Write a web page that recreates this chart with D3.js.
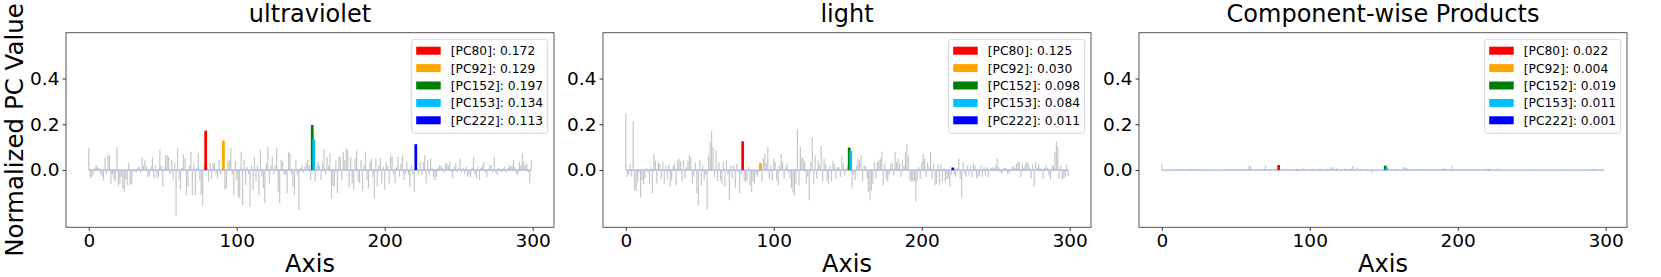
<!DOCTYPE html>
<html>
<head>
<meta charset="utf-8">
<script src="https://cdn.jsdelivr.net/npm/d3@7"></script>
<style>
  body { margin: 0; background: #fff; }
  text { font-family: "DejaVu Sans", sans-serif; }
</style>
</head>
<body>
<svg id="chart" width="1661" height="277"></svg>
<script>
// panel titles
var titles = ["ultraviolet", "light", "Component-wise Products"];

// highlighted components (0-based index = PC number - 1)
var pcLabels = ["PC80", "PC92", "PC152", "PC153", "PC222"];
var pcIndex = [79, 91, 151, 152, 221];
var pcColors = ["red", "orange", "green", "deepskyblue", "blue"];

// legend values per panel
var uvPC = [0.172, 0.129, 0.197, 0.134, 0.113];
var lightPC = [0.125, 0.030, 0.098, 0.084, 0.011];
var prodPC = [0.022, 0.004, 0.019, 0.011, 0.001];

var xTicks = [0, 100, 200, 300];
var yTicks = [0.0, 0.2, 0.4];

// normalized PC values, axis 0..299
var uvValues = [
  0.095, -0.035, -0.03, -0.02, 0.01, 0.022, 0.012, 0.008, -0.02, -0.03,
  -0.045, 0.055, -0.02, 0.065, 0.065, -0.06, -0.02, -0.04, -0.05, 0.1,
  -0.07, -0.06, -0.03, -0.08, -0.095, -0.04, -0.065, 0.03, -0.065, -0.06,
  -0.01, 0.005, -0.01, 0.01, 0.015, -0.01, 0.058, 0.02, 0.043, 0.015,
  -0.03, -0.025, 0.015, 0.058, -0.035, 0.02, -0.035, -0.03, 0.087, 0.02,
  -0.073, 0.015, 0.065, 0.065, 0.058, -0.02, 0.044, -0.045, 0.03, -0.2,
  0.095, -0.04, -0.087, 0.01, 0.07, 0.05, -0.11, -0.073, 0.02, 0.08,
  -0.11, 0.03, -0.11, 0.01, 0.073, -0.044, -0.11, -0.153, 0.015, 0.172,
  0.01, -0.05, 0.03, -0.04, 0.03, 0.03, -0.02, -0.035, 0.044, -0.02,
  0.01, 0.129, -0.087, -0.08, 0.036, 0.044, 0.095, -0.02, -0.11, 0.04,
  -0.044, -0.116, -0.124, 0.08, -0.153, 0.046, -0.065, 0.015, -0.02, -0.16,
  0.022, -0.087, 0.058, -0.05, 0.02, -0.11, 0.087, -0.03, -0.08, -0.145,
  0.03, 0.1, -0.058, 0.02, 0.058, -0.02, 0.02, 0.095, -0.095, -0.145,
  0.044, 0.036, -0.02, -0.02, -0.102, 0.08, 0.073, -0.02, -0.073, -0.109,
  0.044, -0.02, -0.175, 0.01, 0.022, -0.01, 0.015, 0.029, 0.044, 0.02,
  -0.044, 0.197, 0.134, -0.05, 0.02, 0.036, 0.02, -0.044, 0.03, 0.09,
  -0.02, 0.058, 0.02, 0.073, -0.124, -0.07, -0.073, 0.044, -0.1, 0.058,
  0.058, -0.044, 0.08, 0.044, 0.095, 0.087, -0.08, 0.058, -0.058, -0.087,
  0.05, 0.087, -0.05, -0.058, 0.044, -0.087, 0.02, 0.08, -0.044, -0.08,
  0.036, 0.05, -0.03, -0.124, 0.05, -0.073, 0.02, 0.05, -0.058, 0.015,
  -0.087, 0.036, 0.02, -0.058, 0.065, 0.058, -0.02, -0.058, 0.015, 0.058,
  -0.03, 0.03, 0.065, -0.044, -0.02, 0.036, -0.02, -0.073, 0.02, -0.02,
  -0.095, 0.113, 0.01, -0.02, 0.036, -0.02, 0.036, 0.065, -0.058, 0.044,
  -0.02, 0.05, 0.01, -0.03, -0.044, -0.03, 0.01, 0.02, 0.02, 0.01,
  -0.01, 0.03, 0.03, 0.02, 0.036, -0.01, -0.036, 0.015, 0.03, -0.01,
  0.01, 0.05, -0.01, 0.01, -0.02, 0.015, -0.03, -0.02, -0.03, 0.01,
  0.058, -0.02, -0.036, 0.015, -0.044, 0.01, 0.02, 0.036, -0.01, -0.03,
  0.005, 0.02, 0.022, -0.01, 0.058, -0.01, -0.022, 0.01, 0.005, -0.01,
  0.01, 0.015, -0.01, 0.008, 0.022, 0.015, 0.022, 0.044, 0.015, -0.015,
  -0.022, 0.036, 0.022, 0.073, 0.036, 0.022, 0.029, -0.01, -0.058, 0.044
];

var lightValues = [
  0.247, -0.03, -0.02, 0.028, -0.03, 0.213, -0.09, -0.09, -0.05, -0.01,
  -0.12, -0.045, -0.06, -0.035, 0.01, -0.01, -0.06, 0.013, -0.1, 0.071,
  0.042, -0.06, 0.035, 0.028, -0.04, 0.035, -0.06, 0.02, -0.04, 0.028,
  -0.074, -0.045, 0.02, 0.028, -0.067, 0.042, 0.05, 0.038, -0.05, 0.042,
  -0.038, 0.013, 0.042, 0.067, 0.057, -0.06, -0.03, 0.035, -0.1, -0.154,
  0.042, -0.067, 0.02, -0.045, -0.02, -0.172, 0.064, 0.122, 0.17, 0.1,
  -0.03, 0.086, -0.05, 0.035, -0.045, -0.06, 0.035, -0.074, 0.042, -0.02,
  -0.132, 0.02, -0.038, 0.02, -0.08, 0.028, -0.01, -0.1, -0.02, 0.125,
  -0.05, -0.05, -0.05, 0.013, -0.067, -0.096, -0.05, -0.06, -0.02, -0.03,
  -0.01, 0.03, -0.05, 0.05, 0.071, 0.03, 0.1, -0.038, 0.02, -0.045,
  0.05, 0.035, -0.045, -0.067, 0.02, 0.071, 0.035, -0.038, 0.013, 0.028,
  -0.01, -0.038, -0.08, -0.096, -0.11, -0.06, 0.178, -0.067, 0.1, 0.057,
  0.05, 0.035, -0.06, -0.03, -0.132, 0.035, 0.144, -0.06, 0.064, -0.038,
  0.042, 0.02, 0.108, -0.05, 0.05, 0.028, -0.045, -0.06, 0.02, -0.05,
  0.042, 0.028, -0.038, 0.013, 0.013, -0.03, 0.064, 0.028, -0.024, 0.01,
  0.02, 0.098, 0.084, -0.08, -0.02, -0.045, 0.02, 0.05, 0.042, 0.064,
  -0.05, 0.02, 0.02, -0.038, -0.096, -0.132, -0.09, -0.06, 0.035, -0.038,
  0.035, 0.042, 0.05, 0.08, -0.067, 0.028, -0.038, -0.05, -0.02, 0.024,
  0.035, -0.024, 0.079, 0.035, 0.05, 0.028, -0.03, 0.042, 0.02, 0.079,
  0.112, 0.064, -0.045, -0.05, -0.05, -0.05, -0.137, -0.05, 0.013, -0.038,
  0.035, 0.071, 0.05, -0.03, 0.035, 0.013, 0.079, -0.038, 0.028, -0.067,
  -0.06, 0.028, -0.067, 0.028, -0.053, 0.01, -0.053, -0.038, -0.038, -0.074,
  -0.02, 0.011, -0.02, -0.03, 0.01, 0.05, -0.038, -0.118, 0.035, -0.02,
  -0.03, 0.02, -0.024, 0.02, -0.03, 0.028, 0.02, -0.038, -0.03, -0.024,
  0.02, -0.03, 0.013, -0.024, 0.013, -0.03, 0.005, 0.01, 0.013, 0.01,
  0.02, 0.05, 0.013, -0.01, -0.016, 0.005, 0.01, 0.01, -0.016, -0.016,
  0.005, 0.013, 0.02, 0.01, 0.028, 0.035, 0.035, -0.03, 0.028, 0.01,
  0.028, 0.035, 0.028, 0.01, -0.038, 0.028, -0.074, 0.035, 0.01, 0.028,
  0.01, 0.005, -0.038, 0.01, 0.02, 0.01, -0.024, -0.045, 0.02, 0.02,
  0.08, 0.125, 0.1, -0.038, 0.02, -0.038, -0.038, -0.03, 0.028, -0.024
];

var prodValues = [
  0.025, 0.001, 0, 0, 0, 0.003, 0.002, 0, 0.001, 0,
  0.004, 0.002, 0.001, 0, 0.001, 0.001, 0.001, 0, 0.004, 0.006,
  0, 0.003, 0, 0.001, 0.003, 0.001, 0.003, 0.001, 0.002, 0,
  0.001, 0, 0, 0, 0, 0, 0.003, 0.001, 0, 0.001,
  0.001, 0, 0.001, 0.004, 0.002, 0, 0.001, 0, 0.002, 0.003,
  0.002, 0, 0.001, 0.003, 0.001, 0.001, 0.003, 0.003, 0.004, 0.019,
  0.016, 0.004, 0.003, 0.001, 0.003, 0.003, 0.002, 0.005, 0.001, 0.002,
  0.02, 0.001, 0.004, 0.001, 0.006, 0.001, 0.001, 0.011, 0, 0.022,
  0, 0.003, 0.002, 0, 0.002, 0.003, 0.001, 0.002, 0.001, 0.001,
  0, 0.004, 0.004, 0.004, 0.003, 0.001, 0.01, 0.001, 0.002, 0.002,
  0.002, 0.004, 0.006, 0.005, 0.003, 0.003, 0.002, 0.012, 0, 0.004,
  0, 0.003, 0.005, 0.005, 0.012, 0.007, 0.015, 0.002, 0.008, 0.003,
  0.002, 0.004, 0.003, 0.001, 0.008, 0.001, 0.003, 0.006, 0.006, 0.018,
  0.002, 0.001, 0.012, 0.001, 0.005, 0.002, 0.003, 0.001, 0.001, 0.005,
  0.002, 0.001, -0.012, 0, 0, 0, 0.001, 0.001, 0.001, 0,
  0.001, 0.019, 0.011, 0.004, 0, 0.002, 0, 0.002, 0.001, 0.006,
  0.001, 0.001, 0, 0.012, 0.012, 0.009, 0.007, 0.003, 0.004, 0.002,
  0.002, 0.002, 0.004, 0.004, 0.006, 0.002, 0.003, 0.003, 0.001, 0.002,
  0.002, 0.002, 0.004, 0.002, 0.002, 0.002, 0.003, 0.003, 0.001, 0.006,
  0.006, 0.008, 0.001, 0.006, 0.002, 0.004, 0.017, 0.004, 0, 0.001,
  0.003, 0.003, 0.001, 0.002, 0.002, 0.001, 0.005, 0.002, 0, 0.004,
  0.002, 0.001, 0.004, 0.001, 0.001, 0, 0.001, 0.003, 0.001, 0.005,
  0.002, 0.001, 0, 0.001, 0, 0.001, 0.001, 0.008, 0.001, 0.001,
  0.001, 0.001, 0, 0.001, 0.001, 0.001, 0, 0.001, 0.001, 0,
  0, 0.001, 0, 0, 0, 0, 0, 0, 0, 0,
  0, 0.003, 0, 0, 0, 0, 0, 0, 0, 0,
  0, 0, 0.001, 0, 0.001, 0, 0.001, 0.001, 0, 0,
  0, 0.001, 0.001, 0, 0.002, 0, 0.002, 0, 0, 0,
  0, 0, 0, 0, 0, 0, 0, 0.002, 0, 0,
  0.002, 0.005, 0.002, 0.003, 0.001, 0.001, 0.001, 0, 0.002, 0.001
];

var panelValues = [uvValues, lightValues, prodValues];
var panelPC = [uvPC, lightPC, prodPC];

// layout
var panelLeft = [66, 603, 1139];
var panelW = 488;
var plotTop = 32.7;
var plotBottom = 227.3;

var fmt = d3.format(".3f");
var svg = d3.select("#chart");

panelLeft.forEach(function (left, p) {
  var values = panelValues[p];
  var x = d3.scaleLinear().domain([-15.39, 314.39]).range([left, left + panelW]);
  var y = d3.scaleLinear().domain([-0.25, 0.6]).range([plotBottom, plotTop]);
  var g = svg.append("g");
  var barW = x(0.8) - x(0);
  var hiW = x(1.85) - x(0);

  // grey bars
  g.selectAll("rect.bar")
    .data(values)
    .enter()
    .append("rect")
    .attr("class", "bar")
    .attr("x", function (d, i) { return x(i) - barW / 2; })
    .attr("y", function (d) { return y(Math.max(d, 0)); })
    .attr("width", barW)
    .attr("height", function (d) { return Math.abs(y(d) - y(0)); })
    .attr("fill", "#c6c6c6");

  // zero line
  g.append("line")
    .attr("x1", x(0))
    .attr("x2", x(values.length - 1))
    .attr("y1", y(0))
    .attr("y2", y(0))
    .attr("stroke", "#a3b6e2")
    .attr("stroke-width", 1.3);

  // highlighted components
  g.selectAll("rect.hi")
    .data(pcIndex)
    .enter()
    .append("rect")
    .attr("class", "hi")
    .attr("x", function (d) { return x(d) - hiW / 2; })
    .attr("y", function (d) { return y(Math.max(values[d], 0)); })
    .attr("width", hiW)
    .attr("height", function (d) { return Math.abs(y(values[d]) - y(0)); })
    .attr("fill", function (d, i) { return pcColors[i]; });

  // frame
  g.append("rect")
    .attr("x", left)
    .attr("y", plotTop)
    .attr("width", panelW)
    .attr("height", plotBottom - plotTop)
    .attr("fill", "none")
    .attr("stroke", "#555")
    .attr("stroke-width", 1);

  // axes
  var xAxis = d3.axisBottom(x).tickValues(xTicks).tickSize(3.5).tickPadding(3).tickFormat(d3.format("d"));
  var gx = g.append("g").attr("transform", "translate(0," + plotBottom + ")").call(xAxis);
  gx.select(".domain").remove();
  gx.selectAll("text").attr("font-size", "18.5px").attr("fill", "#000").attr("font-family", "DejaVu Sans");
  gx.selectAll("line").attr("stroke", "#333");

  var yAxis = d3.axisLeft(y).tickValues(yTicks).tickSize(3.5).tickPadding(3).tickFormat(d3.format(".1f"));
  var gy = g.append("g").attr("transform", "translate(" + left + ",0)").call(yAxis);
  gy.select(".domain").remove();
  gy.selectAll("text").attr("font-size", "18.5px").attr("fill", "#000").attr("font-family", "DejaVu Sans");
  gy.selectAll("line").attr("stroke", "#333");

  // title and x label
  g.append("text")
    .attr("x", left + panelW / 2)
    .attr("y", 22)
    .attr("text-anchor", "middle")
    .attr("font-size", "24px")
    .text(titles[p]);

  g.append("text")
    .attr("x", left + panelW / 2)
    .attr("y", 271.5)
    .attr("text-anchor", "middle")
    .attr("font-size", "24px")
    .text("Axis");

  // legend
  var legW = 136;
  var lx = left + panelW - 6.3 - legW;
  var ly = plotTop + 6.6;
  var leg = g.append("g").attr("transform", "translate(" + lx + "," + ly + ")");
  leg.append("rect")
    .attr("width", legW)
    .attr("height", 94)
    .attr("rx", 3)
    .attr("fill", "#fff")
    .attr("fill-opacity", 0.85)
    .attr("stroke", "#d6d6d6");
  var rows = leg.selectAll("g.row")
    .data(pcLabels)
    .enter()
    .append("g")
    .attr("class", "row")
    .attr("transform", function (d, i) { return "translate(0," + (11.4 + i * 17.4) + ")"; });
  rows.append("rect")
    .attr("x", 4.5)
    .attr("y", -4)
    .attr("width", 24.5)
    .attr("height", 8)
    .attr("fill", function (d, i) { return pcColors[i]; });
  rows.append("text")
    .attr("x", 39)
    .attr("y", 4.4)
    .attr("font-size", "12.3px")
    .text(function (d, i) { return "[" + d + "]: " + fmt(panelPC[p][i]); });
});

// shared y label
svg.append("text")
  .attr("transform", "translate(23," + (plotTop + plotBottom) / 2 + ") rotate(-90)")
  .attr("text-anchor", "middle")
  .attr("font-size", "24.5px")
  .text("Normalized PC Value");
</script>
</body>
</html>
